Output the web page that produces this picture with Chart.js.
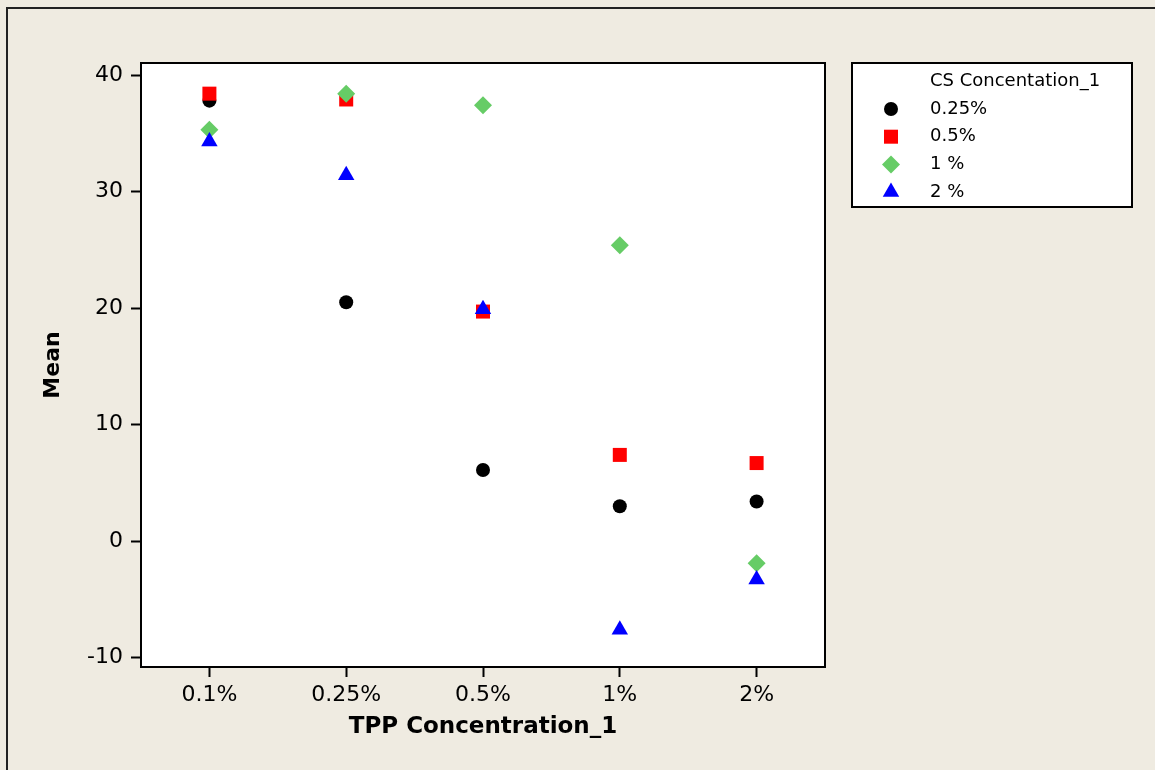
<!DOCTYPE html>
<html>
<head>
<meta charset="utf-8">
<script src="https://cdn.jsdelivr.net/npm/chart.js@4.4.0/dist/chart.umd.min.js"></script>
<style>
  html, body { margin: 0; padding: 0; background: #efebe1; }
  canvas { display: block; }
</style>
</head>
<body>
<canvas id="chart" width="1155" height="770"></canvas>
<script>
// TPP concentration categories (x axis)
const categories = ['0.1%', '0.25%', '0.5%', '1%', '2%'];

// Mean values per CS concentration
const cs025 = [37.8, 20.5, 6.1, 3.0, 3.4];
const cs05 = [38.4, 37.9, 19.7, 7.4, 6.7];
const cs1 = [35.3, 38.4, 37.4, 25.4, -1.9];
const cs2 = [34.3, 31.4, 19.9, -7.6, -3.3];

const seriesNames = ['0.25%', '0.5%', '1 %', '2 %'];
const yTicks = [-10, 0, 10, 20, 30, 40];

const styles = [
    { color: '#000000', shape: 'circle', r: 7 },
    { color: '#ff0000', shape: 'rect', r: 9.9 },
    { color: '#66cc66', shape: 'rectRot', r: 9 },
    { color: '#0000ff', shape: 'triangle', r: 9.5 }
];

const allSeries = [cs025, cs05, cs1, cs2];

const datasets = allSeries.map((vals, i) => ({
    label: seriesNames[i],
    data: vals,
    showLine: false,
    pointStyle: styles[i].shape,
    pointRadius: styles[i].r,
    pointHoverRadius: styles[i].r,
    pointBorderWidth: 0,
    backgroundColor: styles[i].color,
    borderColor: styles[i].color,
    order: allSeries.length - i   // later series drawn on top
}));

// background, outer frame and plot frame
const framePlugin = {
    id: 'frame',
    beforeDraw(chart) {
        const ctx = chart.ctx;
        const a = chart.chartArea;
        ctx.save();
        ctx.fillStyle = '#efebe1';
        ctx.fillRect(0, 0, chart.width, chart.height);
        ctx.strokeStyle = '#222';
        ctx.lineWidth = 2;
        ctx.strokeRect(7, 8, chart.width + 20, chart.height + 20);
        ctx.fillStyle = '#ffffff';
        ctx.fillRect(a.left, a.top, a.right - a.left, a.bottom - a.top);
        ctx.restore();
    },
    beforeDatasetsDraw(chart) {
        const ctx = chart.ctx;
        const a = chart.chartArea;
        ctx.save();
        ctx.strokeStyle = '#000';
        ctx.lineWidth = 2;
        ctx.strokeRect(a.left, a.top, a.right - a.left, a.bottom - a.top);
        ctx.restore();
    }
};

// Minitab-like boxed legend on the right
const boxLegend = {
    id: 'boxLegend',
    afterDraw(chart) {
        const ctx = chart.ctx;
        const x0 = 852, y0 = 63, w = 280, h = 144;
        ctx.save();
        ctx.fillStyle = '#ffffff';
        ctx.fillRect(x0, y0, w, h);
        ctx.strokeStyle = '#000';
        ctx.lineWidth = 2;
        ctx.strokeRect(x0, y0, w, h);

        ctx.fillStyle = '#000';
        ctx.font = '18px "DejaVu Sans"';
        ctx.textBaseline = 'middle';
        ctx.textAlign = 'left';
        ctx.fillText('CS Concentation_1', 930, 81);

        chart.data.datasets.forEach((ds, i) => {
            const y = 109 + i * 27.7;
            ctx.fillStyle = ds.backgroundColor;
            ctx.strokeStyle = ds.borderColor;
            Chart.helpers.drawPoint(ctx, {
                pointStyle: ds.pointStyle,
                radius: ds.pointRadius,
                rotation: 0,
                borderWidth: 0
            }, 891, y);
            ctx.fillStyle = '#000';
            ctx.fillText(ds.label, 930, y);
        });
        ctx.restore();
    }
};

new Chart(document.getElementById('chart'), {
    type: 'line',
    data: { labels: categories, datasets: datasets },
    options: {
        responsive: false,
        animation: false,
        devicePixelRatio: 1,
        layout: { padding: { top: 63, right: 330, bottom: 0, left: 0 } },
        plugins: {
            legend: { display: false },
            tooltip: { enabled: false }
        },
        scales: {
            x: {
                type: 'category',
                offset: true,
                border: { display: false },
                grid: { drawOnChartArea: false, tickLength: 10, tickColor: '#000', tickWidth: 2 },
                ticks: { color: '#000', padding: 5, font: { family: 'DejaVu Sans', size: 22 } },
                title: {
                    display: true,
                    text: 'TPP Concentration_1',
                    color: '#000',
                    font: { family: 'DejaVu Sans', size: 23, weight: 'bold' },
                    padding: { top: 0, bottom: 29 }
                },
                afterFit(scale) { scale.height = 103; }
            },
            y: {
                min: -10.8,
                max: 41.03,
                border: { display: false },
                grid: { drawOnChartArea: false, tickLength: 10, tickColor: '#000', tickWidth: 2 },
                ticks: { color: '#000', padding: 8, font: { family: 'DejaVu Sans', size: 22 } },
                afterBuildTicks(scale) { scale.ticks = yTicks.map(v => ({ value: v })); },
                title: {
                    display: true,
                    text: 'Mean',
                    color: '#000',
                    font: { family: 'DejaVu Sans', size: 22, weight: 'bold' },
                    padding: { top: 40, bottom: 0 }
                },
                afterFit(scale) { scale.width = 141; }
            }
        }
    },
    plugins: [framePlugin, boxLegend]
});
</script>
</body>
</html>
